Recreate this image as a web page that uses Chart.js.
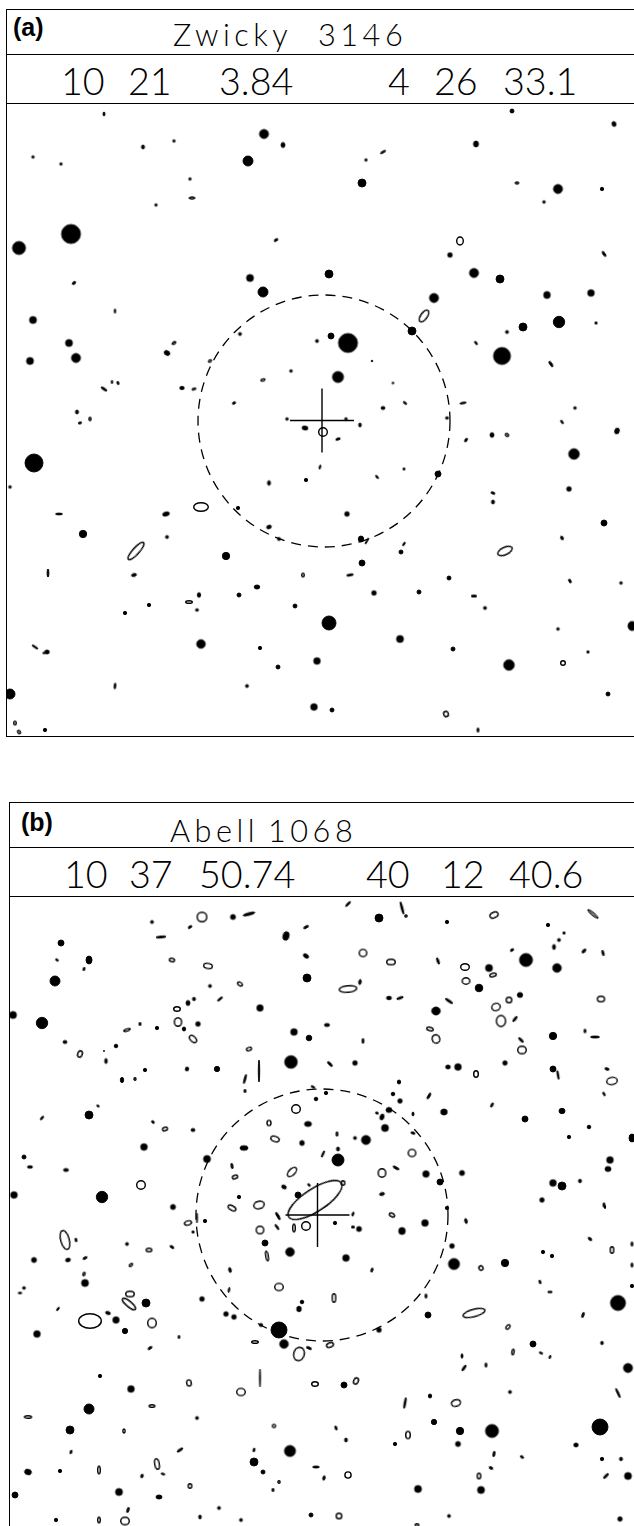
<!DOCTYPE html>
<html>
<head>
<meta charset="utf-8">
<script src="https://cdn.jsdelivr.net/npm/chart.js@4.4.1/dist/chart.umd.min.js"></script>
<style>
  html, body { margin: 0; padding: 0; background: #fff; color: #000; }
  body { position: relative; width: 634px; height: 1526px; overflow: hidden; }
  .hl { position: absolute; height: 1.6px; background: #000; width: 640px; }
  .vl { position: absolute; width: 1.6px; background: #000; }
  .tag { position: absolute; font: bold 25px "Liberation Sans", Arial, sans-serif; line-height: 1; }
  .title { position: absolute; font-family: Lato, "DejaVu Sans", sans-serif; font-weight: 300;
           font-size: 30.7px; line-height: 1; letter-spacing: 4.5px; white-space: pre; }
  .coord { position: absolute; font-family: Lato, "DejaVu Sans", sans-serif; font-weight: 300;
           font-size: 37.7px; line-height: 1; white-space: pre; }
  canvas { position: absolute; }
</style>
</head>
<body>

<!-- panel (a) frame -->
<div class="hl" style="left:6px; top:8.5px;"></div>
<div class="hl" style="left:6px; top:53.5px;"></div>
<div class="hl" style="left:6px; top:102.5px;"></div>
<div class="hl" style="left:6px; top:735.5px;"></div>
<div class="vl" style="left:5.5px; top:8.5px; height:728.5px;"></div>
<div class="tag" style="left:13px; top:14.5px;">(a)</div>
<div class="title" style="left:173px; top:20px;">Zwicky</div>
<div class="title" style="left:318px; top:20px;">3146</div>
<div class="coord" style="left:61px; top:61.5px;">10</div>
<div class="coord" style="left:128px; top:61.5px;">21</div>
<div class="coord" style="left:219px; top:61.5px;">3.84</div>
<div class="coord" style="left:388px; top:61.5px;">4</div>
<div class="coord" style="left:434px; top:61.5px;">26</div>
<div class="coord" style="left:503px; top:61.5px;">33.1</div>
<canvas id="panelA" width="634" height="633" style="left:6px; top:103px;"></canvas>

<!-- panel (b) frame -->
<div class="hl" style="left:9px; top:801.5px;"></div>
<div class="hl" style="left:9px; top:846.5px;"></div>
<div class="hl" style="left:9px; top:895.5px;"></div>
<div class="vl" style="left:8.5px; top:801.5px; height:730px;"></div>
<div class="tag" style="left:21px; top:810px;">(b)</div>
<div class="title" style="left:170px; top:816px;">Abell</div>
<div class="title" style="left:268px; top:816px;">1068</div>
<div class="coord" style="left:64px; top:855px;">10</div>
<div class="coord" style="left:129px; top:855px;">37</div>
<div class="coord" style="left:199px; top:855px;">50.74</div>
<div class="coord" style="left:366px; top:855px;">40</div>
<div class="coord" style="left:441px; top:855px;">12</div>
<div class="coord" style="left:509px; top:855px;">40.6</div>
<canvas id="panelB" width="631" height="632" style="left:9px; top:896px;"></canvas>

<script>
// each object: [x, y, semi-axis x, semi-axis y, rotation in degrees]
// stars are drawn filled, galaxies open

const starsA = [
  [104,114,1,2,0],[264,134,4.5,4.5,0],[283,145,2,2.5,0],[248,161,5,5,0],[143,147,1.5,2,0],
  [174,141,1.2,1.2,0],[33,157,1.2,1.2,0],[61,164,1.2,1.2,0],[190,179,1.2,1.2,0],[156,205,1.2,1.2,0],
  [71,234,9.5,9.5,0],[19,248,6.5,6.5,0],[250,278,3.5,3.5,0],[263,292,5,5,0],[74,283,2,1.2,-40],
  [33,320,3.5,3.5,0],[69,343,3.5,3.5,0],[76,358,4.5,4.5,0],[30,361,3.5,3.5,0],[167,353,3,2.2,30],
  [240,334,1.5,1.5,0],[317,341,1.5,1.5,0],[291,371,1.3,1.3,0],[104,389,3.5,1,35],[182,388,2.2,1.7,0],
  [512,111,2,2,0],[614,124,2,2.5,-20],[476,144,2.5,3,0],[366,160,1.2,1.2,0],[362,183,4,4,0],
  [558,189,4.5,4.5,0],[602,189,1.7,1.7,0],[544,202,1.3,1.3,0],[450,255,2.3,2.3,0],[329,274,4,4,0],
  [474,273,4.5,4.5,0],[500,279,4,4,0],[547,295,3.3,3.5,0],[591,293,3.3,3.3,0],[434,298,4.5,4.5,0],
  [412,331,4,4,0],[559,322,5.7,5.7,0],[523,327,4,4,0],[507,332,1.5,1.5,0],[331,336,3,3,0],
  [348,343,9.5,9.5,0],[502,356,8.5,8.5,0],[338,377,5.5,5.5,0],[372,361,0.8,0.8,0],[383,408,2,1.5,0],
  [575,408,1.3,1.3,0],[77,412,1.5,2,0],[34,463,9,9,0],[10,487,1.3,1.3,0],[59,514,3.5,0.9,0],
  [166,514,3.5,2,-15],[83,534,3.7,3.7,0],[167,537,1.5,1.5,0],[48,573,0.9,4,0],[134,575,2.5,1.5,-15],
  [226,556,3.7,3.7,0],[238,508,1.7,1.7,0],[269,483,1.5,2.3,0],[306,480,1.7,1.7,0],[305,428,3,2,10],
  [287,419,1.3,1.3,0],[269,527,2.5,1.7,-20],[279,539,1.5,1.5,0],[257,587,2.8,2,0],[239,595,2,2,0],
  [199,595,1.7,2.3,0],[197,610,1.5,1.3,0],[149,605,1.7,1.7,0],[125,613,1.7,1.7,0],[295,606,2,2,0],
  [201,644,4.3,4.3,0],[47,652,2.3,2,0],[35,647,3.5,0.8,35],[260,648,1.7,1.7,0],[317,661,3.3,3.3,0],
  [278,667,2,2,0],[247,686,1.5,1.5,0],[10,694,5,5,0],[314,707,3.3,3.3,0],[45,730,1.7,1.7,0],
  [346,419,1.3,1.3,0],[360,425,1.3,2,0],[447,418,1.5,1.2,0],[492,435,2,2.3,0],[617,431,2.3,3,20],
  [574,454,5.3,5.3,0],[438,474,3,3,0],[493,502,1.5,2,0],[569,489,2.3,2.3,0],[604,523,3,3,0],
  [347,514,2.3,2.3,0],[361,539,2.7,3,0],[367,541,3.5,0.6,-60],[401,552,2,2,0],[562,538,1.3,2,-30],
  [362,563,3,3,0],[350,575,3.5,1,-10],[449,578,2,2,0],[621,583,1.3,1.3,0],[374,593,2.3,2.3,0],
  [419,592,2,2,0],[485,608,1.5,1.5,0],[329,623,7,7,0],[558,629,1.3,1.3,0],[632,626,4,4.5,0],
  [400,639,3.5,3.5,0],[453,649,2,2,0],[509,665,5.3,5.3,0],[608,694,2,2,0],[332,710,2,2,0]
];

const galaxiesA = [
  [192,198,3.3,1.7,0],[276,240,2.5,1.5,-35],[115,311,1.2,2.5,0],[174,343,2.7,1.7,-35],[210,361,2.3,1.8,-30],
  [263,380,2.7,1.8,-20],[112,382,1.2,2,0],[118,383,1.5,2,-20],[194,389,2.5,1.6,-20],[234,403,2.2,1.5,-30],
  [383,152,3.3,1.3,-30],[517,183,2.3,1.7,0],[460,241,4,4.7,0],[604,254,3.3,1.4,55],[424,316,7.5,4,-55],
  [596,323,1.7,1.5,0],[476,343,2.5,1.3,55],[551,364,3.5,1.5,55],[393,383,1.3,1.3,0],[405,403,2.5,1.2,40],
  [463,403,3.5,1.3,-10],[80,423,2,1.4,-20],[90,419,1.8,2.2,0],[201,507,8,5,0],[136,551,12,4,-48],
  [303,575,2,2.5,0],[189,602,4,2,0],[115,686,1.3,3.3,5],[15,723,2,2.5,0],[19,732,2,2.5,-30],
  [44,653,1.5,1.2,0],[323,432,5,5,0],[338,439,2.7,1.5,-20],[466,440,2.5,1.5,-55],[507,435,2.5,2,40],
  [562,422,2.5,1.2,55],[320,467,1.2,2.5,15],[404,469,1.3,1.8,0],[377,477,2.5,1.1,50],[493,493,2.5,1.5,25],
  [404,544,2.5,1,-55],[505,551,8.5,4.5,-25],[570,581,2.5,1.5,60],[474,596,3,1.5,0],[588,652,1.5,1.8,0],
  [563,663,3,3,0],[446,714,3,3.5,-20],[478,730,1.5,2.5,0]
];

const starsB = [
  [233,917,2.5,2.5,0],[249,914,6,1.3,-15],[152,922,1.5,1.5,0],[161,937,5,1,-5],[286,936,3,4.3,15],
  [61,943,3,3,0],[89,960,3,4,0],[84,969,1,1.8,20],[306,956,3,1.8,35],[55,981,5,5,0],
  [307,978,4,4,0],[210,986,1.5,1.5,0],[188,1003,2,2.5,0],[194,999,1.5,1.7,0],[260,1008,3.2,3.2,0],
  [13,1015,3.5,3.5,0],[42,1023,5.7,5.7,0],[157,1028,1.7,1.7,0],[184,1029,1.7,2,0],[198,1024,2.3,2.3,0],
  [294,1032,3.3,3.3,0],[309,1038,2.8,2.8,0],[65,1042,2,1.5,0],[116,1046,1.8,1.8,0],[104,1051,0.6,0.6,0],
  [106,1061,1.3,2.5,0],[145,1070,1.7,1.7,0],[187,1069,1.7,2,15],[217,1069,2.7,2.7,0],[291,1062,6.3,6.3,0],
  [259,1071,0.7,11,0],[122,1080,1.7,2.7,0],[316,1099,1.8,1.8,0],[89,1115,4,4,0],[193,1130,2,1.5,0],
  [308,1124,3.5,2.5,0],[302,1143,2.3,2.5,0],[244,1148,4,2.3,0],[144,1147,3.3,3.3,0],[24,1157,2,2,0],
  [30,1167,2.7,1.2,0],[66,1170,2.5,1.5,0],[207,1159,3.5,3.5,0],[284,1187,2.5,1.8,30],[14,1195,3.3,3.3,0],
  [102,1197,5.7,5.7,0],[239,1197,1.7,1.7,0],[298,1195,3,3,0],[173,1207,2.5,2.5,0],
  [402,908,6.5,0.9,75],[379,918,4,4,0],[447,922,1.7,1.7,0],[548,925,1.7,1.7,0],[559,940,1.5,1.5,0],
  [554,947,1.5,2.5,0],[584,951,2.5,1.3,-45],[603,953,1,3,-15],[438,961,1,3.5,-20],[526,960,6.5,6.5,0],
  [489,968,3.5,3.5,0],[557,968,4.3,4.3,0],[360,982,1.3,2.5,10],[479,988,3.8,3.8,0],[520,995,2.7,2.5,0],
  [389,998,2.5,1.8,0],[400,998,3.5,1,-20],[449,1001,4.5,1,35],[436,1011,4.3,4,0],[515,1019,3.3,1,-50],
  [327,1025,2.7,1.5,0],[553,1036,3.7,3.7,0],[595,1037,4.5,1,0],[521,1040,3.3,1,45],[355,1063,2.3,2.3,0],
  [448,1067,2.3,2,0],[458,1067,3.3,3.3,0],[505,1063,2.2,2.2,0],[553,1069,3,3,0],[558,1075,0.8,4.5,-10],
  [607,1069,2.2,1.2,20],[399,1082,1.7,2,0],[393,1094,1.8,1.8,0],[400,1101,2.2,2.2,0],[326,1093,1.7,1.7,0],
  [492,1105,1,2.5,30],[444,1112,3.3,3,0],[389,1110,3,2.5,0],[382,1117,2,3,20],[413,1114,1,2,0],
  [562,1111,3,2.7,0],[525,1119,3,3,0],[385,1128,3.5,3.5,0],[355,1138,1.5,1.5,0],[366,1140,4.5,4.5,0],
  [589,1127,1.8,1.8,0],[569,1137,1.7,1.7,0],[632,1138,3,4,0],[338,1149,1.5,2,0],[323,1154,0.8,3.5,25],
  [338,1160,6,6,0],[426,1174,3.2,3.2,0],[440,1182,3,3,0],[462,1173,2.5,2.5,0],[610,1160,3.3,3.3,0],
  [608,1169,3,2.5,0],[553,1183,3.3,3.3,0],[562,1186,4,4,0],[580,1181,1.5,1.8,0],[382,1194,2.5,1.5,-15],
  [542,1200,2.2,2.2,0],
  [197,1218,0.5,5,0],[205,1221,1.7,1.7,0],[265,1243,3,3,0],[290,1252,4.3,4.3,0],[76,1240,1,2,-15],
  [127,1244,1.5,1.5,0],[34,1260,2.5,2.5,0],[68,1260,2.5,1.8,-15],[85,1283,3.5,3.5,0],[230,1270,1.3,2.5,-15],
  [24,1288,1.5,1.3,0],[146,1303,4,4,0],[202,1299,2.3,2.3,0],[302,1302,1.8,1.8,0],[299,1309,2.3,2.8,0],
  [108,1313,2.5,1.5,20],[116,1320,3.2,3.2,0],[125,1331,2.7,2.7,0],[226,1314,2.3,2.3,0],[234,1317,2.3,2.3,0],
  [261,1325,1.7,1.5,0],[279,1330,8,8,0],[284,1344,4.3,4.3,0],[37,1334,3.3,3.3,0],[100,1376,1.7,1.7,0],
  [260,1378,0.5,9,0],[131,1389,3.3,3.3,0],[89,1409,5,5,0],[197,1418,1.5,1.5,0],[70,1430,4,4,0],
  [290,1451,5.5,5.5,0],[180,1450,3.5,1,-35],[71,1452,1,2,20],[254,1450,1,2,15],[254,1462,4,4,0],
  [28,1472,3.5,2.7,15],[60,1471,1.7,1.7,0],[142,1476,1.3,1.8,20],[263,1472,2,2,0],[316,1467,3.3,1,0],
  [15,1495,3,3,0],[119,1492,3.5,3.5,0],[159,1497,3,2,0],[219,1508,1.5,1.5,0],[311,1515,2,2,0],
  [56,1520,1.7,1.7,0],[200,1517,1.3,2,0],[241,1520,1.5,1.5,0],
  [447,1208,1.7,1.7,0],[466,1221,1.3,2.5,-15],[335,1223,1.7,1.7,0],[359,1229,2.5,2.5,0],[402,1231,3.3,3.5,0],
  [425,1223,3.3,3.3,0],[452,1246,2.3,2.3,0],[346,1258,3.3,3.3,0],[454,1264,5.5,5.5,0],[505,1263,3.7,3.7,0],
  [590,1239,2.2,1.2,40],[543,1252,1.7,1.7,0],[552,1256,1.7,1.7,0],[632,1286,1.7,1.7,0],[540,1282,1,2,-20],
  [618,1303,7.5,7.5,0],[428,1315,3,3,0],[379,1330,2.3,2.3,0],[602,1343,1.3,1.7,0],[533,1344,3,3,0],
  [462,1356,1,2.2,0],[464,1368,3.5,1,-55],[628,1368,4.5,4.5,0],[344,1385,3,3,0],[430,1396,1.7,2,0],
  [405,1403,0.9,5.5,10],[510,1392,1.5,1.5,0],[434,1422,2.7,2.7,0],[460,1431,3.7,3.7,0],[492,1431,6.5,6.5,0],
  [600,1427,8,8,0],[336,1428,1,2.2,-20],[346,1440,1.4,2,0],[395,1444,1.7,1.7,0],[458,1444,2.5,2.5,0],
  [576,1445,2.2,2,0],[522,1457,2,1,40],[602,1459,1.7,1.7,0],[621,1459,1.5,1.8,0],[491,1468,2,1.2,30],
  [324,1478,1.2,2.2,15],[606,1476,3.5,1,-45],[628,1476,3.5,3.5,0],[418,1489,3.5,3.5,0],[481,1490,3.5,3.5,0],
  [449,1516,1.5,1.5,0],[620,1519,2.2,2.2,0]
];

const galaxiesB = [
  [202,917,5.5,5.5,0],[190,927,2.5,1.5,-35],[306,927,3,1.5,-30],[57,960,2,1.2,40],[172,960,3.3,2.5,10],
  [208,966,5,3.3,10],[240,984,3.3,2.3,35],[220,999,3.5,1.2,-40],[177,1009,4,3,0],[178,1022,4.3,5,0],
  [140,1024,1.5,2,0],[127,1030,4,1.8,-20],[193,1039,5,3.3,45],[80,1054,3,4,20],[249,1049,3.3,2.3,-20],
  [245,1079,1.3,5,15],[135,1079,1.7,2,0],[245,1091,1.5,2,0],[313,1087,2.5,1.2,30],[296,1109,5,5,0],
  [98,1106,1.8,1.2,35],[42,1118,2.8,1.2,-50],[153,1122,2,1.5,45],[165,1129,3.3,2.5,-20],[269,1123,2.7,3.3,0],
  [275,1139,5,3.3,20],[232,1166,1.5,3,-10],[235,1177,3.5,2.5,-20],[292,1172,6.5,3.7,-45],[309,1185,2,1.2,45],
  [141,1185,5,5,0],[259,1205,6,4.5,-15],[232,1208,5,3,30],
  [348,904,3.7,1.3,-45],[406,916,1.8,1.8,0],[494,915,5,3.5,-25],[593,914,7,1.8,40],[564,933,1.7,1.5,0],
  [512,950,2.3,1.5,-35],[363,953,4.5,4.3,0],[391,962,5,3.5,0],[465,967,5,4,0],[493,975,4,2.5,-15],
  [466,981,4.5,4,0],[348,989,9.5,4,-5],[509,1000,3.5,3.5,0],[601,999,4.3,3.5,0],[496,1007,5,4.3,-20],
  [501,1021,5.3,6.2,0],[430,1029,4,2.5,15],[436,1039,4.5,5,-20],[363,1041,1.4,3,0],[585,1031,1.5,2.2,0],
  [522,1050,5,4.5,0],[330,1064,3.5,1.5,45],[476,1074,3,4,0],[612,1081,6,4.3,-10],[604,1094,2.5,1.2,60],
  [429,1096,3.7,1.4,-60],[377,1113,1.8,1.5,20],[413,1133,2.5,1.5,20],[337,1134,1.5,2.8,0],[412,1153,4.5,4.3,0],
  [382,1173,4.5,5,0],[396,1168,3.7,1.4,30],[604,1205,1.4,2.8,0],[315,1200,32,12,-33],[343,1183,2.5,3,0],
  [188,1223,4.3,2.8,-15],[193,1232,1.7,1.5,0],[278,1216,4.5,1.5,60],[277,1227,3.5,1.3,55],[294,1228,2,4.5,0],
  [306,1226,5,5,0],[260,1230,4.5,4.5,0],[267,1256,2,5.5,-10],[65,1240,5,10.5,-15],[149,1250,3.5,2.5,0],
  [172,1247,2.7,1.5,35],[85,1258,2.7,1.5,-30],[131,1265,2.7,1.8,-45],[84,1274,1.7,2.5,20],[279,1287,5,4.3,0],
  [20,1293,2.2,1.3,0],[229,1290,1.2,3,10],[130,1294,5,3.5,0],[129,1304,9,3.5,40],[58,1309,2.5,1,-50],
  [90,1321,12,8,0],[152,1323,5,5.5,0],[255,1342,4,2,0],[299,1354,6,7.5,15],[309,1348,3,1.5,25],
  [179,1337,1.3,2,0],[150,1348,2.8,1.5,-35],[189,1383,3,3.8,-10],[241,1392,5,4.3,0],[315,1384,4,3,0],
  [152,1406,3.5,2,0],[28,1417,4.2,2,0],[274,1426,2.3,2.3,0],[124,1431,1.8,2.7,0],[99,1470,2,4.5,0],
  [157,1464,3,6,-10],[163,1474,2.3,1.2,20],[279,1482,1.8,2,0],[273,1490,1.5,2,0],[190,1486,2.5,3,0],
  [128,1510,1.5,3,20],[99,1520,2,3.5,0],[125,1521,5,4.5,0],
  [353,1214,1.3,2.5,20],[392,1215,3.5,2.5,30],[353,1227,2,1.5,0],[372,1270,1.5,2.5,20],[481,1268,2.7,3,-30],
  [605,1207,1,2,0],[612,1250,2.5,4,0],[632,1244,1.5,2.5,0],[632,1265,1.5,2.5,0],[550,1292,2.7,1.2,0],
  [334,1298,2.5,5,0],[426,1296,1.5,2.5,0],[474,1313,12,4.5,-15],[583,1315,1.5,3,20],[508,1327,2.2,3.3,40],
  [541,1353,2.3,1.3,30],[550,1357,1.3,2,20],[513,1352,1.8,3.5,10],[330,1345,4.3,3,-20],[486,1365,1.5,2.5,0],
  [356,1381,3,4,25],[456,1403,5.3,4,-15],[618,1393,5.5,1.3,65],[408,1435,3,4.3,0],[494,1454,1.5,3,10],
  [348,1475,3.8,3.8,0],[479,1476,2.5,3.5,0],[339,1516,3.5,3.5,0],[417,1525,2.5,2,0]
];

// cluster centre marks: [x, y] of the cross, [x, y, radius] of the dashed ring
const crossA = [322, 420.5];
const crossB = [317.5, 1215];
const ringA = [324, 421, 126];
const ringB = [322, 1215, 126];

// the plotter pen has a width, so filled marks get an outline too
function ellipseImage(p, filled) {
  if (p.img) return p.img;
  const c = document.createElement('canvas');
  c.width = Math.ceil(2 * p.rx + 6);
  c.height = Math.ceil(2 * p.ry + 6);
  const g = c.getContext('2d');
  const lw = filled ? 0.9 : 1.4;
  const inset = filled ? 0 : lw / 2;
  g.beginPath();
  g.ellipse(c.width / 2, c.height / 2, Math.max(p.rx - inset, 0.45), Math.max(p.ry - inset, 0.45), 0, 0, 2 * Math.PI);
  g.fillStyle = '#000';
  g.strokeStyle = '#000';
  g.lineWidth = lw;
  if (filled) g.fill();
  g.stroke();
  p.img = c;
  return c;
}

function objects(list, filled) {
  return {
    data: list.map(o => ({ x: o[0], y: o[1], rx: o[2], ry: o[3], rot: o[4] })),
    pointRadius: 2,
    pointStyle: ctx => ctx.raw ? ellipseImage(ctx.raw, filled) : 'circle',
    pointRotation: ctx => ctx.raw ? ctx.raw.rot : 0
  };
}

const dashedRing = {
  id: 'dashedRing',
  afterDatasetsDraw(chart, args, opts) {
    const { ctx, scales } = chart;
    const cx = scales.x.getPixelForValue(opts.ring[0]);
    const cy = scales.y.getPixelForValue(opts.ring[1]);
    const r = scales.x.getPixelForValue(opts.ring[0] + opts.ring[2]) - cx;
    ctx.save();
    ctx.setLineDash([10, 7]);
    ctx.lineWidth = 1.3;
    ctx.strokeStyle = '#000';
    ctx.beginPath();
    ctx.arc(cx, cy, r, 0, 2 * Math.PI);
    ctx.stroke();
    ctx.restore();
  }
};

function finderChart(id, stars, galaxies, cross, ring, xRange, yRange) {
  new Chart(document.getElementById(id), {
    type: 'scatter',
    data: {
      datasets: [
        objects(stars, true),
        objects(galaxies, false),
        {
          data: [{ x: cross[0], y: cross[1] }],
          pointStyle: 'cross',
          pointRadius: 32,
          borderWidth: 1.4,
          borderColor: '#000'
        }
      ]
    },
    options: {
      responsive: false,
      animation: false,
      events: [],
      layout: { padding: 0, autoPadding: false },
      scales: {
        x: { display: false, min: xRange[0], max: xRange[1] },
        y: { display: false, min: yRange[0], max: yRange[1], reverse: true }
      },
      plugins: {
        legend: { display: false },
        tooltip: { enabled: false },
        dashedRing: { ring: ring }
      }
    },
    plugins: [dashedRing]
  });
}

finderChart('panelA', starsA, galaxiesA, crossA, ringA, [6, 640], [103, 736]);
finderChart('panelB', starsB, galaxiesB, crossB, ringB, [9, 640], [896, 1528]);
</script>
</body>
</html>
